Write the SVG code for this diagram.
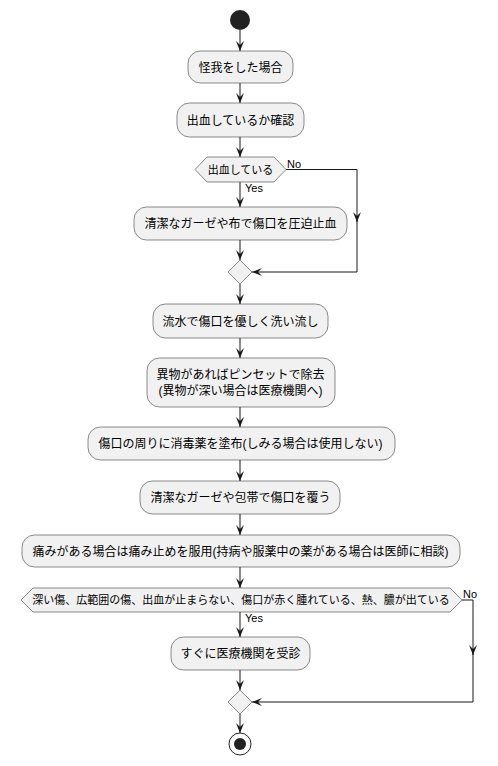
<svg xmlns="http://www.w3.org/2000/svg" width="498" height="766" viewBox="0 0 498 766">
<style>
.box{fill:#F1F1F1;stroke:#181818;stroke-width:0.5}
.t{font-family:"Liberation Sans","Noto Sans CJK JP",sans-serif;font-size:12px;fill:#000;text-anchor:middle}
.d{font-family:"Liberation Sans","Noto Sans CJK JP",sans-serif;font-size:11px;fill:#000;text-anchor:middle}
.l{font-family:"Liberation Sans","Noto Sans CJK JP",sans-serif;font-size:11px;fill:#000}
.c{fill:none;stroke:#181818;stroke-width:1}
</style>
<defs>
<marker id="ah" viewBox="0 0 10 8" refX="10" refY="4" markerWidth="10" markerHeight="8" markerUnits="userSpaceOnUse" orient="auto">
<path d="M0,0 L10,4 L0,8 L4,4 Z" fill="#181818"/>
</marker>
</defs>
<rect width="498" height="766" fill="#FFFFFF"/>
<g id="connectors">
<path class="c" d="M240,30 V51" marker-end="url(#ah)"/>
<path class="c" d="M240,83 V103" marker-end="url(#ah)"/>
<path class="c" d="M240,137 V157" marker-end="url(#ah)"/>
<path class="c" d="M240,182 V207" marker-end="url(#ah)"/>
<path class="c" d="M240,240 V260" marker-end="url(#ah)"/>
<path class="c" d="M286,169.5 H357 V222" marker-end="url(#ah)"/>
<path class="c" d="M357,220 V272 H252" marker-end="url(#ah)"/>
<path class="c" d="M240,284 V304" marker-end="url(#ah)"/>
<path class="c" d="M240,338 V358" marker-end="url(#ah)"/>
<path class="c" d="M240,407 V427" marker-end="url(#ah)"/>
<path class="c" d="M240,460 V481" marker-end="url(#ah)"/>
<path class="c" d="M240,514 V535" marker-end="url(#ah)"/>
<path class="c" d="M240,567 V588" marker-end="url(#ah)"/>
<path class="c" d="M240,612 V637" marker-end="url(#ah)"/>
<path class="c" d="M240,670 V690" marker-end="url(#ah)"/>
<path class="c" d="M462,600 H473 V655" marker-end="url(#ah)"/>
<path class="c" d="M473,653 V702 H252" marker-end="url(#ah)"/>
<path class="c" d="M240,714 V733" marker-end="url(#ah)"/>
<text class="l" x="287" y="168">No</text>
<text class="l" x="245" y="192">Yes</text>
<text class="l" x="463" y="598">No</text>
<text class="l" x="245" y="622">Yes</text>
</g>
<g id="start"><circle cx="240" cy="20" r="10" fill="#222222"/></g>
<g id="n1"><rect class="box" x="188" y="51" width="105" height="32" rx="12.5"/><text class="t" x="240.5" y="71.5">怪我をした場合</text></g>
<g id="n2"><rect class="box" x="177" y="103" width="127" height="34" rx="12.5"/><text class="t" x="240.5" y="124.5">出血しているか確認</text></g>
<g id="d1"><polygon class="box" points="195,169.5 207,157 274,157 286,169.5 274,182 207,182"/><text class="d" x="240.5" y="174">出血している</text></g>
<g id="n3"><rect class="box" x="134" y="207" width="213" height="33" rx="12.5"/><text class="t" x="240.5" y="228">清潔なガーゼや布で傷口を圧迫止血</text></g>
<g id="m1"><polygon class="box" points="240,260 252,272 240,284 228,272"/></g>
<g id="n4"><rect class="box" x="153" y="304" width="175" height="34" rx="12.5"/><text class="t" x="240.5" y="325.5">流水で傷口を優しく洗い流し</text></g>
<g id="n5"><rect class="box" x="147" y="358" width="188" height="49" rx="12.5"/><text class="t" x="240.5" y="378.5">異物があればピンセットで除去</text><text class="t" x="240.5" y="395">(異物が深い場合は医療機関へ)</text></g>
<g id="n6"><rect class="box" x="88" y="427" width="307" height="33" rx="12.5"/><text class="t" x="240.5" y="448">傷口の周りに消毒薬を塗布(しみる場合は使用しない)</text></g>
<g id="n7"><rect class="box" x="140" y="481" width="200" height="33" rx="12.5"/><text class="t" x="240.5" y="502">清潔なガーゼや包帯で傷口を覆う</text></g>
<g id="n8"><rect class="box" x="22" y="535" width="438" height="32" rx="12.5"/><text class="t" x="240.5" y="555.5">痛みがある場合は痛み止めを服用(持病や服薬中の薬がある場合は医師に相談)</text></g>
<g id="d2"><polygon class="box" points="21,600 33,588 450,588 462,600 450,612 33,612"/><text class="d" x="241" y="604">深い傷、広範囲の傷、出血が止まらない、傷口が赤く腫れている、熱、膿が出ている</text></g>
<g id="n9"><rect class="box" x="171" y="637" width="139" height="33" rx="12.5"/><text class="t" x="240.5" y="658">すぐに医療機関を受診</text></g>
<g id="m2"><polygon class="box" points="240,690 252,702 240,714 228,702"/></g>
<g id="end"><circle cx="240" cy="744" r="11" fill="none" stroke="#222222" stroke-width="1"/><circle cx="240" cy="744" r="6" fill="#222222"/></g>
</svg>
